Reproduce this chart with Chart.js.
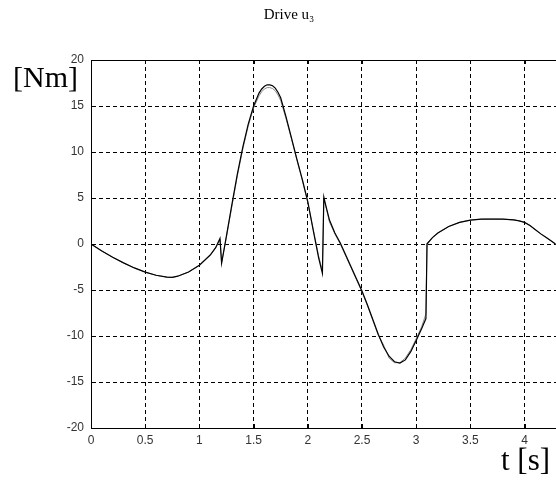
<!DOCTYPE html>
<html>
<head>
<meta charset="utf-8">
<script src="https://cdn.jsdelivr.net/npm/chart.js@4/dist/chart.umd.min.js"></script>
<style>
  html, body { margin: 0; padding: 0; background: #fff; }
  #wrap { position: relative; width: 556px; height: 481px; }
</style>
</head>
<body>
<div id="wrap"><canvas id="c" width="556" height="481"></canvas></div>
<script>
// ---- data ----
const chartTitle = "Drive u\u2083";
const yAxisLabel = "[Nm]";
const xAxisLabel = "t [s]";

const tValues = [0,0.1,0.2,0.3,0.4,0.5,0.6,0.7,0.75,0.8,0.9,1.0,1.1,1.15,1.19,1.205,1.25,1.3,1.35,1.4,1.45,1.5,1.55,1.575,1.6,1.625,1.65,1.675,1.7,1.725,1.75,1.8,1.85,1.9,1.95,2.0,2.05,2.1,2.135,2.148,2.17,2.2,2.25,2.3,2.35,2.4,2.45,2.5,2.55,2.6,2.65,2.7,2.75,2.8,2.85,2.9,2.95,3.0,3.05,3.09,3.1,3.15,3.2,3.3,3.4,3.5,3.6,3.7,3.8,3.9,3.95,4.0,4.05,4.1,4.15,4.2,4.25,4.285];

const torqueA = [0,-0.75,-1.45,-2.05,-2.6,-3.05,-3.4,-3.6,-3.62,-3.5,-3.05,-2.3,-1.2,-0.4,0.6,-2.1,0.9,4.3,7.6,10.5,13.0,15.0,16.4,16.85,17.15,17.3,17.3,17.2,16.95,16.5,15.9,13.8,11.5,9.2,7.0,4.6,1.5,-1.5,-3.2,5.1,4.0,2.6,1.2,0.1,-1.2,-2.5,-3.8,-5.1,-6.6,-8.2,-9.8,-11.2,-12.2,-12.8,-12.95,-12.6,-11.7,-10.5,-9.2,-8.1,0.0,0.7,1.2,1.9,2.35,2.6,2.7,2.72,2.7,2.62,2.52,2.35,2.0,1.55,1.1,0.7,0.3,0];

const torqueB = [0,-0.75,-1.45,-2.05,-2.6,-3.05,-3.4,-3.6,-3.62,-3.5,-3.05,-2.3,-1.2,-0.4,0.5,-2.0,0.8,4.1,7.4,10.3,12.8,14.8,16.1,16.55,16.85,17.0,17.0,16.9,16.65,16.2,15.6,13.6,11.4,9.1,6.9,4.5,1.6,-1.3,-2.9,4.9,3.9,2.4,1.1,0.0,-1.3,-2.6,-3.9,-5.2,-6.7,-8.3,-9.9,-11.0,-12.4,-12.9,-12.9,-12.4,-11.5,-10.3,-9.0,-7.6,0.1,0.7,1.2,1.9,2.35,2.6,2.7,2.72,2.7,2.62,2.52,2.35,2.0,1.55,1.1,0.7,0.3,0];

const xTickValues = [0,0.5,1,1.5,2,2.5,3,3.5,4];
const yTickValues = [-20,-15,-10,-5,0,5,10,15,20];
const xRange = [0, 4.29];
const yRange = [-20, 20];

// ---- build ----
const seriesA = tValues.map((t, i) => ({x: t, y: torqueA[i]}));
const seriesB = tValues.map((t, i) => ({x: t, y: torqueB[i]}));

const tickFont = {family: "'Liberation Sans', Arial, sans-serif", size: 12};
const tickColor = '#333';

const framePlugin = {
  id: 'frame',
  afterDraw(chart) {
    const {ctx, chartArea: a, scales: {x, y}} = chart;
    ctx.save();
    ctx.strokeStyle = '#000';
    ctx.lineWidth = 1;
    ctx.setLineDash([]);
    // top border
    ctx.beginPath();
    ctx.moveTo(a.left, Math.round(a.top) + 0.5);
    ctx.lineTo(a.right, Math.round(a.top) + 0.5);
    ctx.stroke();
    // inward ticks
    const tl = 4;
    ctx.beginPath();
    xTickValues.forEach(v => {
      const px = Math.round(x.getPixelForValue(v)) + 0.5;
      ctx.moveTo(px, a.top); ctx.lineTo(px, a.top + tl);
      ctx.moveTo(px, a.bottom); ctx.lineTo(px, a.bottom - tl);
    });
    yTickValues.forEach(v => {
      const py = Math.round(y.getPixelForValue(v)) + 0.5;
      ctx.moveTo(a.left, py); ctx.lineTo(a.left + tl, py);
    });
    ctx.stroke();
    // texts
    ctx.fillStyle = '#000';
    ctx.textBaseline = 'middle';
    ctx.textAlign = 'center';
    ctx.font = "15px 'Liberation Serif', 'Times New Roman', serif";
    ctx.fillText(chartTitle, 289, 15);
    ctx.font = "30px 'Liberation Serif', 'Times New Roman', serif";
    ctx.textAlign = 'left';
    ctx.fillText(yAxisLabel, 13, 79);
    ctx.font = "31px 'Liberation Serif', 'Times New Roman', serif";
    ctx.fillText(xAxisLabel, 501, 462);
    ctx.restore();
  }
};

new Chart(document.getElementById('c'), {
  type: 'scatter',
  data: {
    datasets: [
      {data: seriesB, showLine: true, borderColor: '#888', borderWidth: 1, pointRadius: 0, tension: 0, order: 2},
      {data: seriesA, showLine: true, borderColor: '#000', borderWidth: 1.2, pointRadius: 0, tension: 0, order: 1}
    ]
  },
  plugins: [framePlugin],
  options: {
    responsive: false,
    animation: false,
    events: [],
    layout: {padding: {left: 0, right: 0, top: 60, bottom: 0}},
    plugins: {legend: {display: false}, title: {display: false}, tooltip: {enabled: false}},
    scales: {
      x: {
        type: 'linear', min: xRange[0], max: xRange[1],
        afterBuildTicks: s => { s.ticks = xTickValues.map(v => ({value: v})); },
        afterFit: s => { s.height = 53; },
        ticks: {font: tickFont, color: tickColor, padding: 5, maxRotation: 0, autoSkip: false,
                callback: v => String(v)},
        grid: {color: '#000', lineWidth: 1, drawTicks: false},
        border: {display: true, color: '#000', width: 1, dash: [4, 3]}
      },
      y: {
        type: 'linear', min: yRange[0], max: yRange[1],
        afterBuildTicks: s => { s.ticks = yTickValues.map(v => ({value: v})); },
        afterFit: s => { s.width = 91; },
        ticks: {font: tickFont, color: tickColor, padding: 7, autoSkip: false,
                callback: v => String(v)},
        grid: {color: '#000', lineWidth: 1, drawTicks: false},
        border: {display: true, color: '#000', width: 1, dash: [4, 3]}
      }
    }
  }
});
</script>
</body>
</html>
